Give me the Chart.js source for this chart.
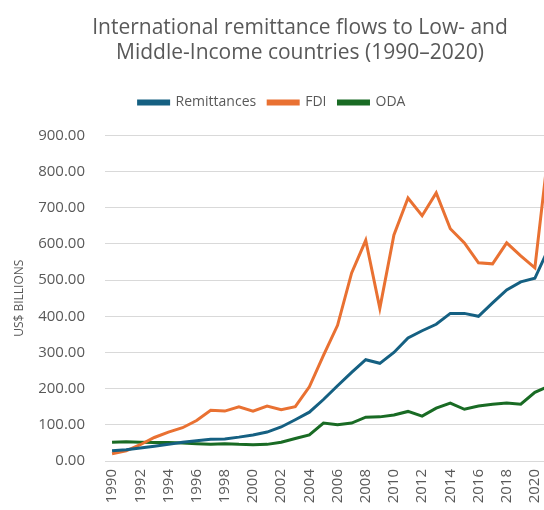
<!DOCTYPE html>
<html>
<head>
<meta charset="utf-8">
<script src="https://cdn.jsdelivr.net/npm/chart.js@4.4.1/dist/chart.umd.min.js"></script>
<style>
  html, body { margin: 0; padding: 0; background: #fff; overflow: hidden; }
  #wrap { width: 600px; height: 525px; position: relative; }
</style>
</head>
<body>
<div id="wrap"><canvas id="flows"></canvas></div>
<script>
// US$ billions, 1990 - 2021
const years = ['1990', '1991', '1992', '1993', '1994', '1995', '1996', '1997', '1998', '1999',
               '2000', '2001', '2002', '2003', '2004', '2005', '2006', '2007', '2008', '2009',
               '2010', '2011', '2012', '2013', '2014', '2015', '2016', '2017', '2018', '2019',
               '2020', '2021'];

const remittances = [28, 31, 36, 41, 46, 52, 56, 60, 61, 66,
                     72, 80, 94, 114, 135, 170, 208, 245, 280, 270,
                     300, 340, 360, 378, 408, 408, 400, 437, 473, 495,
                     505, 590];

const fdi = [20, 28, 45, 65, 80, 92, 112, 140, 138, 150,
             138, 152, 142, 150, 205, 292, 375, 520, 610, 422,
             625, 727, 678, 741, 642, 603, 548, 545, 603, 567,
             534, 870];

const oda = [52, 53, 52, 51, 51, 50, 48, 46, 48, 46,
             45, 46, 52, 62, 72, 105, 100, 105, 121, 122,
             127, 137, 124, 146, 160, 143, 152, 157, 160, 157,
             190, 207];

const yTicks = [0, 100, 200, 300, 400, 500, 600, 700, 800, 900];

const grey = '#595959';
const gridGrey = '#d9d9d9';
const fontFamily = '"Open Sans", "Liberation Sans", sans-serif';

function series(label, data, color) {
  return {
    label: label,
    data: data,
    borderColor: color,
    backgroundColor: color,
    borderWidth: 3,
    pointRadius: 0,
    tension: 0
  };
}

// legend sits a little left of the title centre
const legendShift = {
  id: 'legendShift',
  afterLayout: function (chart) {
    chart.legend.left -= 28;
    chart.legend.right -= 28;
  }
};

// invisible axis used only to reserve margin space
function spacer(position, size) {
  return {
    position: position,
    display: true,
    grid: { display: false, drawTicks: false },
    border: { display: false },
    ticks: { display: false },
    afterFit: function (s) {
      if (position === 'top') { s.height = size; } else { s.width = size; }
    }
  };
}

new Chart(document.getElementById('flows'), {
  type: 'line',
  data: {
    labels: years,
    datasets: [
      series('Remittances', remittances, '#156082'),
      series('FDI', fdi, '#E97132'),
      series('ODA', oda, '#196B24')
    ]
  },
  plugins: [legendShift],
  options: {
    responsive: true,
    maintainAspectRatio: false,
    animation: false,
    layout: { padding: { top: 15, left: 0, right: 0, bottom: 0 } },
    plugins: {
      title: {
        display: true,
        text: ['International remittance flows to Low- and', 'Middle-Income countries (1990\u20132020)'],
        color: grey,
        font: { family: fontFamily, size: 21, weight: 'normal', lineHeight: 1.2 },
        padding: { top: 0, bottom: 18 }
      },
      legend: {
        position: 'top',
        labels: {
          color: grey,
          font: { family: fontFamily, size: 14 },
          boxWidth: 30,
          boxHeight: 3,
          padding: 12
        }
      },
      tooltip: { enabled: false }
    },
    scales: {
      x: {
        offset: true,
        grid: { display: false, drawTicks: false },
        border: { display: true, color: gridGrey, width: 1 },
        ticks: {
          autoSkip: false,
          minRotation: 90,
          maxRotation: 90,
          padding: 8,
          color: grey,
          font: { family: fontFamily, size: 15 },
          callback: function (v, i) { return i % 2 === 0 ? years[i] : ''; }
        },
        afterFit: function (s) { s.height = 64; }
      },
      y: {
        min: yTicks[0],
        max: yTicks[yTicks.length - 1],
        afterBuildTicks: function (s) { s.ticks = yTicks.map(function (v) { return { value: v }; }); },
        grid: { color: gridGrey, drawTicks: false },
        border: { display: false },
        ticks: {
          padding: 20,
          color: grey,
          font: { family: fontFamily, size: 15 },
          callback: function (v) { return Number(v).toFixed(2); }
        },
        title: {
          display: true,
          text: 'US$ BILLIONS',
          color: grey,
          font: { family: fontFamily, size: 12 },
          padding: { top: 12, bottom: 0 }
        },
        afterFit: function (s) { s.width = 105; }
      },
      xTop: spacer('top', 16),
      yRight: spacer('right', 44)
    }
  }
});
</script>
</body>
</html>
